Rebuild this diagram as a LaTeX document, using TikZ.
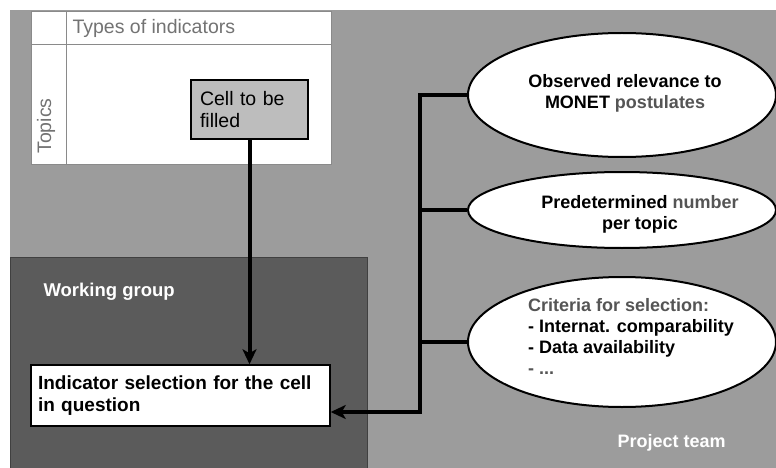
\documentclass[tikz,border=0pt]{standalone}
\usepackage{fontspec}
\setmainfont{Liberation Sans}
\usetikzlibrary{shapes.geometric,arrows.meta}

\definecolor{bggray}{HTML}{9C9C9C}
\definecolor{wggray}{HTML}{5B5B5B}
\definecolor{cellgray}{HTML}{BDBDBD}
\definecolor{txtgray}{HTML}{555555}
\definecolor{rulegray}{HTML}{8A8A8A}

\begin{document}
\begin{tikzpicture}[x=1pt, y=-1pt, >={Stealth[length=15pt,width=14pt,inset=4pt]},
  oval/.style={ellipse, draw=black, line width=2pt, fill=white, minimum width=308pt, inner sep=0pt},
  ovaltext/.style={font=\fontsize{18}{21}\selectfont\bfseries, align=center},
  boxtext/.style={font=\fontsize{19.5}{22.5}\selectfont, align=left},
  boldboxtext/.style={font=\fontsize{19}{22.5}\selectfont\bfseries, align=left},
  link/.style={line width=4pt}]

  % Frame and grey background
  \useasboundingbox (0,0) rectangle (776,468);
  \fill[white] (0,0) rectangle (776,468);
  \fill[bggray] (10,10) rectangle (776,468);

  % Table of topics and indicator types
  \filldraw[fill=white, draw=rulegray, line width=1pt] (31,12) rectangle (331,164);
  \draw[rulegray, line width=1pt] (66,12) -- (66,164);
  \draw[rulegray, line width=1pt] (31,45) -- (331,45);
  \node[anchor=west, text=black!55, boxtext] (types) at (69,28) {Types of indicators};
  \node[rotate=90, text=black!55, boxtext] (topics) at (46,126) {Topics};

  % Cell to be filled
  \node[draw=black, line width=1.5pt, fill=cellgray, minimum height=59pt,
        text width=99pt, inner xsep=9pt, boxtext] (cell) at (249.5,109.5) {Cell to be\\filled};

  % Working group
  \filldraw[fill=wggray, draw=black!75, line width=0.8pt] (10,257) rectangle (367,468);
  \node[anchor=west, text=white, font=\fontsize{18.5}{21}\selectfont\bfseries] (group) at (40,292) {Working group};
  \node[draw=black, line width=1.5pt, fill=white, minimum height=61pt,
        text width=285pt, inner xsep=7pt, boldboxtext] (select) at (180.5,395.5)
        {Indicator selection for the cell\\in question};

  % Project team inputs
  \node[oval, minimum height=124pt] (relev) at (622,95) {};
  \node[oval, minimum height=76pt] (number) at (622,210) {};
  \node[oval, minimum height=130pt] (crit) at (622,342) {};
  \node[ovaltext] (relevtext) at (625,93) {Observed relevance to\\MONET \textcolor{txtgray}{postulates}};
  \node[ovaltext] (numbertext) at (640,214) {Predetermined \textcolor{txtgray}{number}\\per topic};
  \node[ovaltext, align=left] (crittext) at (631,336)
        {\textcolor{txtgray}{Criteria for selection:}\\- Internat. comparability\\- Data availability\\\textcolor{txtgray}{- ...}};
  \node[anchor=west, text=white, font=\fontsize{18}{21}\selectfont\bfseries] (team) at (614,443) {Project team};

  % Connectors
  \coordinate (busend) at (420,412);
  \draw[link, ->] (relev.west) -| (busend) -- (select.east |- busend);
  \draw[link] (number.west) -- (number.west -| busend);
  \draw[link] (crit.west) -- (crit.west -| busend);
  \draw[link, ->] (cell.south) -- (cell.south |- select.north);
\end{tikzpicture}
\end{document}
